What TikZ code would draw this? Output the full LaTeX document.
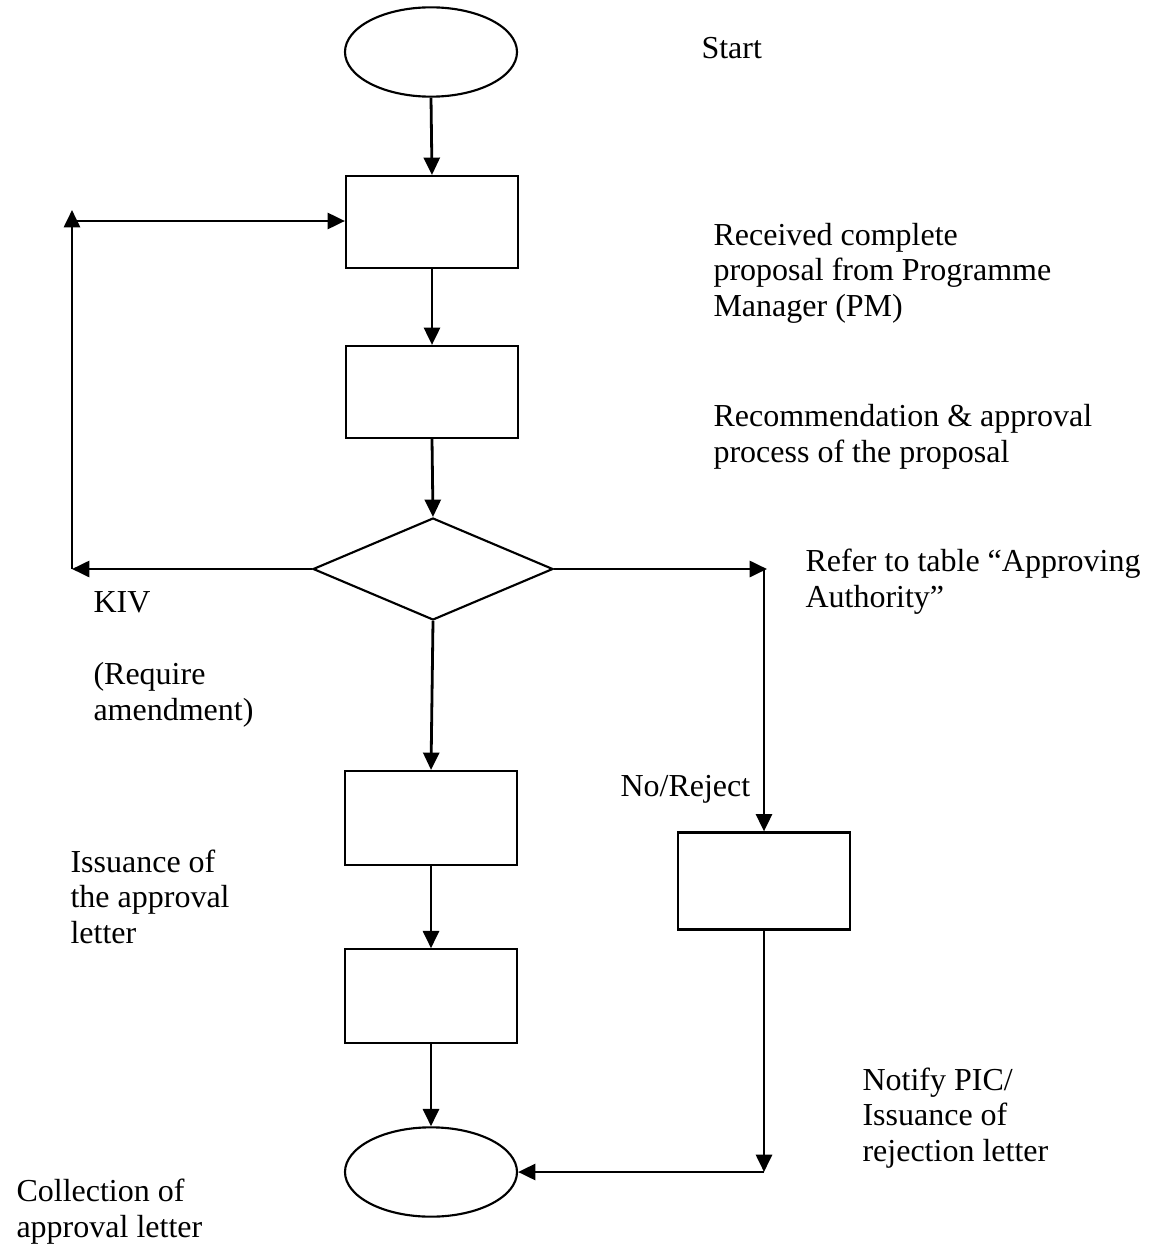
\documentclass[tikz,border=0pt]{standalone}
\usepackage{fontspec}
\setmainfont{Liberation Serif}
\usetikzlibrary{shapes.geometric,arrows.meta}
\begin{document}
\begin{tikzpicture}[x=0.375pt,y=-0.375pt,
  shapeline/.style={draw=black,line width=0.8pt,inner sep=0pt},
  procbox/.style={shapeline,rectangle,minimum width=64.5pt,minimum height=34.5pt},
  termoval/.style={shapeline,ellipse,minimum width=64.5pt,minimum height=33.5pt},
  decis/.style={shapeline,diamond,minimum width=90pt,minimum height=38.25pt},
  flow/.style={line width=1.05pt,-{Triangle[length=6.5pt,width=6pt]}},
  lbl/.style={anchor=base west,align=left,inner sep=0pt,font=\fontsize{12}{13.2}\selectfont}]
\useasboundingbox (0,0) rectangle (1159,1245);
% shapes
\node[termoval] (start) at (431,52) {};
\node[procbox] (b1) at (432,222) {};
\node[procbox] (b2) at (432,392) {};
\node[decis] (d) at (433,569) {};
\node[procbox,minimum height=35.25pt] (b4) at (431,818) {};
\node[procbox,minimum height=35pt] (b5) at (431,996) {};
\node[procbox,minimum height=36.4pt] (b3) at (764,881) {};
\node[termoval] (fin) at (431,1172) {};
% helper coordinates
\coordinate (kivL) at (72,569);
\coordinate (kivT) at (72,210);
\coordinate (kivH) at (72,221);
\coordinate (refR) at (767,569);
\coordinate (refV) at (764,569);
\coordinate (rejB) at (764,1172);
% connectors
\draw[flow] (start.south) -- (b1.north);
\draw[flow] (b1.south) -- (b2.north);
\draw[flow] (b2.south) -- (d.north);
\draw[flow] (d.west) -- (kivL);
\draw[flow] (kivL) -- (kivT);
\draw[flow] (kivH) -- (b1.west |- kivH);
\draw[flow] (d.east) -- (refR);
\draw[flow] (refV) -- (b3.north);
\draw[flow] (d.south) -- (b4.north);
\draw[flow] (b4.south) -- (b5.north);
\draw[flow] (b5.south) -- (fin.north);
\draw[flow] (b3.south) -- (rejB);
\draw[flow] (rejB) -- (fin.east);
% labels (base = baseline of the last line)
\node[lbl] (tStart) at (701,59) {Start};
\node[lbl] (tRecv) at (713,316) {Received complete\\proposal from Programme\\Manager (PM)};
\node[lbl] (tRec) at (713,462) {Recommendation \& approval\\process of the proposal};
\node[lbl] (tRef) at (805,607) {Refer to table “Approving\\Authority”};
\node[lbl] (tKIV) at (93,612) {KIV};
\node[lbl] (tReq) at (93,720) {(Require\\amendment)};
\node[lbl] (tNo) at (620,796) {No/Reject};
\node[lbl] (tIss) at (70,943) {Issuance of\\the approval\\letter};
\node[lbl] (tNot) at (862,1161) {Notify PIC/\\Issuance of\\rejection letter};
\node[lbl] (tCol) at (16,1237) {Collection of\\approval letter};
\end{tikzpicture}
\end{document}
